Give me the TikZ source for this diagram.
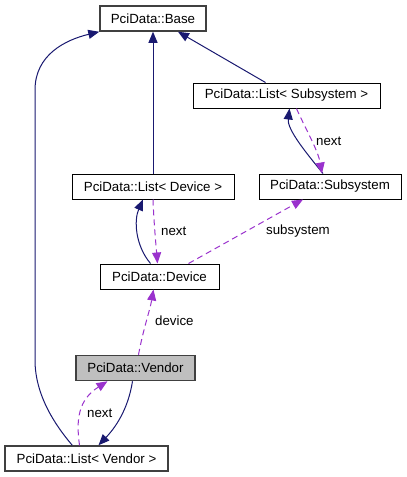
\documentclass[tikz,border=0pt]{standalone}
\usepackage{fontspec}
\setmainfont{Liberation Sans}
\usetikzlibrary{arrows.meta, calc}
\definecolor{edgenavy}{RGB}{25, 25, 112}
\definecolor{usepurple}{RGB}{154, 50, 205}
\definecolor{boxgray}{RGB}{64, 64, 64}
\definecolor{selgray}{RGB}{191, 191, 191}
\tikzset{
  classbox/.style={rectangle, draw=black, line width=1pt, fill=white,
              minimum width=#1, minimum height=25pt, inner sep=0pt,
              font=\fontsize{13.3}{16}\selectfont},
  classbox/.default=120pt,
  leafbox/.style={classbox=#1, draw=boxgray, line width=1.5pt},
  leafbox/.default=120pt,
  inherit/.style={-{Triangle[length=11pt, width=9pt]}, line width=1pt, color=edgenavy},
  uses/.style={-{Triangle[length=11pt, width=9pt]}, line width=1pt, color=usepurple,
              dash pattern=on 6pt off 4pt},
  edgelabel/.style={anchor=west, inner sep=0pt, font=\fontsize{13.3}{16}\selectfont},
}
\begin{document}
\begin{tikzpicture}[x=1pt, y=-1pt]
  \useasboundingbox (0,0) rectangle (407,477);
  \node[leafbox=106pt] (base) at (153,18.5) {PciData::Base};
  \node[classbox=187pt] (listsub) at (286.5,95.5) {PciData::List< Subsystem >};
  \node[classbox=162pt] (listdev) at (153,186.5) {PciData::List< Device >};
  \node[classbox=142pt] (subsys) at (330,186.5) {PciData::Subsystem};
  \node[classbox=119pt] (device) at (159.5,276.5) {PciData::Device};
  \node[leafbox=119pt, fill=selgray] (vendor) at (135.5,368) {PciData::Vendor};
  \node[leafbox=163pt] (listven) at (86.5,458.5) {PciData::List< Vendor >};

  \draw[inherit] ($(listven.north west)+(68,0)$) .. controls (55,425) and (35,395) .. (35,360)
        -- (35,90) .. controls (35,55) and (65,40) .. (base.south west);
  \draw[inherit] (listdev.north) -- (base.south);
  \draw[inherit] ($(listsub.north west)+(73,0)$) -- ($(base.south)+(25,0)$);

  \draw[inherit] ($(subsys.north)+(-7,0)$) .. controls (308,155) and (287,130) .. ($(listsub.south)+(3,0)$);
  \draw[uses] ($(listsub.south)+(10,0)$) .. controls (305,128) and (318,150) .. ($(subsys.north)+(-8,0)$);
  \node[edgelabel] (nextsub) at (316,141) {next};

  \draw[inherit] ($(device.north)+(-9,0)$) .. controls (135,245) and (134,220) .. ($(listdev.south)+(-10,0)$);
  \draw[uses] (listdev.south) .. controls (154,225) and (156,245) .. ($(device.north)+(-2,0)$);
  \node[edgelabel] (nextdev) at (161,231) {next};

  \draw[uses] ($(device.north)+(29,0)$) -- ($(subsys.south)+(-27,0)$);
  \node[edgelabel] (subsyslbl) at (266,231) {subsystem};

  \draw[uses] ($(vendor.north)+(3,0)$) .. controls (143,330) and (150,310) .. ($(device.south)+(-6,0)$);
  \node[edgelabel] (devlbl) at (155,321) {device};

  \draw[inherit] ($(vendor.south)+(-3,0)$) .. controls (128,410) and (115,428) .. ($(listven.north)+(12,0)$);
  \draw[uses] ($(listven.north)+(-7,0)$) .. controls (76,420) and (78,400) .. ($(vendor.south)+(-28,0)$);
  \node[edgelabel] (nextven) at (87,413) {next};
\end{tikzpicture}
\end{document}
